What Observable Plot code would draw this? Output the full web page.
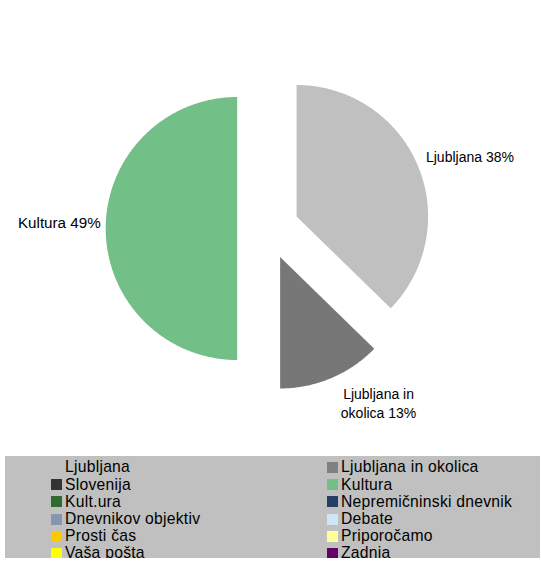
<!DOCTYPE html>
<html><head><meta charset="utf-8">
<script src="https://cdn.jsdelivr.net/npm/d3@7"></script>
<script src="https://cdn.jsdelivr.net/npm/@observablehq/plot@0.6"></script>
<style>
body{margin:0;background:#fff;font-family:"Liberation Sans",Arial,sans-serif;}
#wrap{position:relative;width:541px;height:577px;overflow:hidden;}
#legend{position:absolute;left:5px;top:456px;width:535px;height:102px;background:#c0c0c0;overflow:hidden;}
.item{position:absolute;height:17.2px;line-height:17.2px;font-size:15.7px;letter-spacing:0.25px;color:#000;white-space:nowrap;}
.sw{position:absolute;width:11px;height:11px;}
</style></head>
<body><div id="wrap"><div id="chart"></div><div id="legend"></div></div>
<script>
// Slices (clockwise from 12 o'clock); shares
const sliceNames = ["Ljubljana", "Ljubljana in okolica", "Kultura"];
const sliceShares = [37.3, 12.7, 50.0];
const slicePercentLabels = ["38%", "13%", "49%"];
const sliceColors = ["#c0c0c0", "#777777", "#72bf87"];

// Legend
const legendNames = ["Ljubljana", "Ljubljana in okolica", "Slovenija", "Kultura", "Kult.ura", "Nepremičninski dnevnik",
  "Dnevnikov objektiv", "Debate", "Prosti čas", "Priporočamo", "Vaša pošta", "Zadnja"];
const legendColors = ["#c0c0c0", "#808080", "#333333", "#72bf87", "#2f6a2f", "#243f62",
  "#8496b2", "#cfe6f6", "#ffc800", "#ffff99", "#ffff00", "#660066"];

// layout
const W = 541, H = 456, CX = 267.6, CY = 228, R = 131.5, EXPLODE = 30.9;

const total = d3.sum(sliceShares);
const slices = [];
let acc = 0;
sliceNames.forEach((name, i) => {
  const a0 = acc / total * 2 * Math.PI;
  acc += sliceShares[i];
  const a1 = acc / total * 2 * Math.PI;
  const mid = (a0 + a1) / 2;
  const ox = CX + EXPLODE * Math.sin(mid), oy = CY - EXPLODE * Math.cos(mid);
  const label = name === "Ljubljana in okolica" ? "Ljubljana in\nokolica " + slicePercentLabels[i] : name + " " + slicePercentLabels[i];
  slices.push({name, color: sliceColors[i], label, a0, a1, mid, ox, oy});
});

const pts = [];
for (const s of slices) {
  pts.push({name: s.name, color: s.color, x: s.ox, y: s.oy});
  const n = Math.max(2, Math.ceil((s.a1 - s.a0) / (Math.PI / 360)));
  for (let k = 0; k <= n; k++) {
    const a = s.a0 + (s.a1 - s.a0) * k / n;
    pts.push({name: s.name, color: s.color, x: s.ox + R * Math.sin(a), y: s.oy - R * Math.cos(a)});
  }
}

const lab = slices.map(s => ({
  label: s.label,
  x: s.ox + (R + 10) * Math.sin(s.mid),
  y: s.oy - (R + 10) * Math.cos(s.mid)
}));

const chart = Plot.plot({
  width: W, height: H, margin: 0,
  x: {domain: [0, W], range: [0, W], axis: null},
  y: {domain: [0, H], range: [0, H], axis: null},
  color: {type: "identity"},
  style: {fontFamily: "'Liberation Sans', Arial, sans-serif", background: "transparent"},
  marks: [
    Plot.line(pts, {x: "x", y: "y", z: "name", fill: "color", stroke: "none", curve: "linear-closed"}),
    Plot.text([lab[0]], {x: "x", y: "y", text: "label", textAnchor: "start", fontSize: 14, fill: "#000", dx: -1, dy: -4}),
    Plot.text([lab[1]], {x: "x", y: "y", text: "label", textAnchor: "middle", fontSize: 14, fill: "#000", lineHeight: 1.35, lineAnchor: "top", dx: 43.5, dy: -1.6}),
    Plot.text([lab[2]], {x: "x", y: "y", text: "label", textAnchor: "end", fontSize: 15.2, fill: "#000", dx: 5, dy: -5})
  ]
});
document.getElementById("chart").appendChild(chart);

const leg = document.getElementById("legend");
legendNames.forEach((name, i) => {
  const col = i % 2, row = Math.floor(i / 2);
  const item = document.createElement("div");
  item.className = "item";
  item.style.left = (col ? 336 : 60) + "px";
  item.style.top = (2.4 + row * 17.2) + "px";
  item.textContent = name;
  leg.appendChild(item);
  const sw = document.createElement("div");
  sw.className = "sw";
  sw.style.background = legendColors[i];
  sw.style.left = (col ? 322 : 46) + "px";
  sw.style.top = (6 + row * 17.2) + "px";
  leg.appendChild(sw);
});
</script></body></html>
